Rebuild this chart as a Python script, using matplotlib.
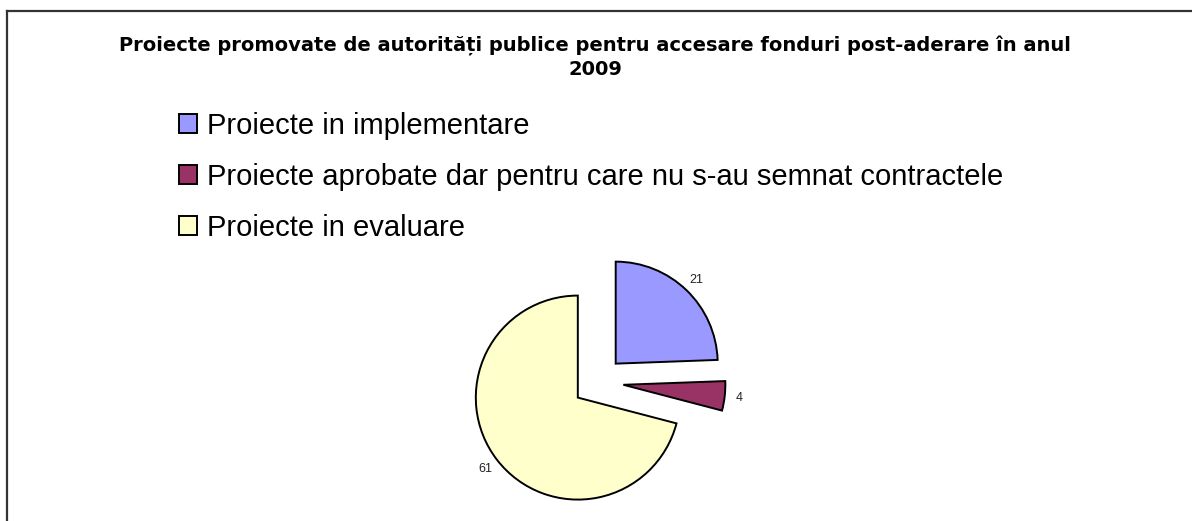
import numpy as np
import matplotlib.pyplot as plt
from matplotlib.lines import Line2D

plt.rcParams['font.family'] = ['Liberation Sans', 'DejaVu Sans']

title = ('Proiecte promovate de autorități publice pentru accesare fonduri post-aderare în anul\n'
         '2009')
categories = ['Proiecte in implementare',
              'Proiecte aprobate dar pentru care nu s-au semnat contractele',
              'Proiecte in evaluare']
values = [21, 4, 61]
colors = ['#9999FF', '#993366', '#FFFFCC']

W, H = 1192, 521
fig = plt.figure(figsize=(W / 100, H / 100), dpi=100)
fig.patch.set_facecolor('white')

# frame lines (top + left only are visible)
fig.add_artist(Line2D([7 / W, 7 / W], [0, 1 - 11 / H], color='#333333', lw=1.6))
fig.add_artist(Line2D([7 / W, 1], [1 - 11 / H, 1 - 11 / H], color='#333333', lw=1.6))

fig.text(595 / W, 1 - 57 / H, title, ha='center', va='center',
         fontsize=14, fontweight='bold', family='DejaVu Sans', linespacing=1.3)

# pie axes: centre at (598, 382) px, radius ~102 px
r = 102
ax = fig.add_axes([(598 - 1.5 * r) / W, 1 - (382 + 1.5 * r) / H, 3 * r / W, 3 * r / H])
wedges, texts, autotexts = ax.pie(values, colors=colors, startangle=90, counterclock=False,
                                  explode=[0.25, 0.25, 0.25],
                                  autopct=lambda p: '%d' % round(p * sum(values) / 100),
                                  pctdistance=1.14,
                                  wedgeprops=dict(edgecolor='black', linewidth=1.4),
                                  textprops=dict(fontsize=9, color='#222222'))
ax.set_xlim(-1.5, 1.5)
ax.set_ylim(-1.5, 1.5)
ax.set_aspect('equal')
ax.axis('off')

leg = fig.legend(wedges, categories, loc='upper left',
                 bbox_to_anchor=(164 / W, 1 - 97 / H), frameon=False,
                 fontsize=21, handlelength=0.62, handleheight=0.62,
                 handletextpad=0.35, labelspacing=0.79, borderpad=0)
for h in leg.legend_handles:
    h.set_linewidth(1.4)

fig.savefig('out.png', dpi=100)
